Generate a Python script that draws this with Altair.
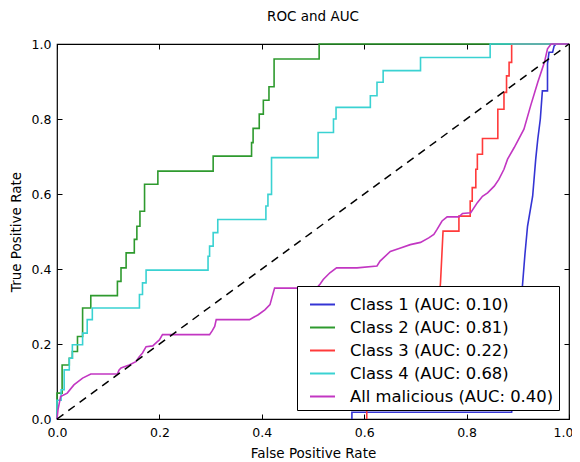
import altair as alt
import pandas as pd

FONT = "DejaVu Sans"

series_names = [
    "Class 1 (AUC: 0.10)",
    "Class 2 (AUC: 0.81)",
    "Class 3 (AUC: 0.22)",
    "Class 4 (AUC: 0.68)",
    "All malicious (AUC: 0.40)",
]
series_colors = ["#3434d4", "#2e9a2e", "#ff3a3a", "#3ad2d2", "#c236c2"]

tick_values = [0.0, 0.2, 0.4, 0.6, 0.8, 1.0]

# Class 1 (blue) - the run along the bottom edge is hidden under the frame
c1_fpr = [0.576, 0.576, 0.888, 0.896, 0.903, 0.909, 0.914, 0.919, 0.929, 0.935,
          0.939, 0.944, 0.948, 0.958, 0.958, 0.961, 0.968, 0.971, 0.975, 1.0]
c1_tpr = [0.0, 0.018, 0.018, 0.15, 0.26, 0.354, 0.44, 0.514, 0.594, 0.693,
          0.746, 0.80, 0.875, 0.875, 0.947, 0.978, 0.978, 0.995, 1.0, 1.0]

# Class 2 (green)
c2_fpr = [0.0, 0.0, 0.010, 0.010, 0.024, 0.024, 0.030, 0.030, 0.040, 0.040, 0.050, 0.050,
          0.066, 0.066, 0.118, 0.118, 0.125, 0.125, 0.135, 0.135, 0.151, 0.151, 0.156, 0.156,
          0.162, 0.162, 0.171, 0.171, 0.197, 0.197, 0.305, 0.305, 0.380, 0.380, 0.383, 0.383,
          0.395, 0.395, 0.403, 0.403, 0.414, 0.414, 0.424, 0.424, 0.512, 0.512, 1.0]
c2_tpr = [0.0, 0.069, 0.069, 0.144, 0.144, 0.162, 0.162, 0.180, 0.180, 0.220, 0.220, 0.296,
          0.296, 0.329, 0.329, 0.367, 0.367, 0.403, 0.403, 0.443, 0.443, 0.479, 0.479, 0.514,
          0.514, 0.554, 0.554, 0.626, 0.626, 0.661, 0.661, 0.701, 0.701, 0.737, 0.737, 0.775,
          0.775, 0.813, 0.813, 0.850, 0.850, 0.886, 0.886, 0.960, 0.960, 1.0, 1.0]

# Class 3 (red) - the run along the bottom edge is hidden under the frame
c3_fpr = [0.605, 0.605, 0.740, 0.745, 0.749, 0.754, 0.785, 0.785, 0.807, 0.807, 0.811,
          0.811, 0.818, 0.818, 0.821, 0.821, 0.831, 0.831, 0.861, 0.861, 0.873, 0.873, 0.878,
          0.878, 0.883, 0.883, 0.888, 0.888, 1.0]
c3_tpr = [0.0, 0.050, 0.050, 0.300, 0.363, 0.501, 0.501, 0.541, 0.541, 0.581, 0.581,
          0.617, 0.617, 0.666, 0.666, 0.706, 0.706, 0.748, 0.748, 0.826, 0.826, 0.871, 0.871,
          0.915, 0.915, 0.951, 0.951, 1.0, 1.0]

# Class 4 (cyan)
c4_fpr = [0.0, 0.0, 0.008, 0.008, 0.014, 0.014, 0.024, 0.024, 0.030, 0.030, 0.050, 0.050,
          0.059, 0.059, 0.069, 0.069, 0.161, 0.161, 0.167, 0.167, 0.174, 0.174, 0.295, 0.295,
          0.298, 0.298, 0.305, 0.305, 0.314, 0.314, 0.408, 0.408, 0.412, 0.412, 0.419, 0.419,
          0.510, 0.510, 0.540, 0.540, 0.545, 0.545, 0.612, 0.612, 0.625, 0.625, 0.637, 0.637,
          0.710, 0.710, 0.846, 0.846, 1.0]
c4_tpr = [0.0, 0.050, 0.050, 0.078, 0.078, 0.131, 0.131, 0.162, 0.162, 0.198, 0.198, 0.229,
          0.229, 0.265, 0.265, 0.296, 0.296, 0.332, 0.332, 0.363, 0.363, 0.397, 0.397, 0.434,
          0.434, 0.461, 0.461, 0.497, 0.497, 0.532, 0.532, 0.568, 0.568, 0.599, 0.599, 0.697,
          0.697, 0.764, 0.764, 0.800, 0.800, 0.831, 0.831, 0.862, 0.862, 0.898, 0.898, 0.929,
          0.929, 0.964, 0.964, 1.0, 1.0]

# All malicious (magenta)
c5_fpr = [0.0, 0.002, 0.007, 0.020, 0.033, 0.050, 0.066, 0.118, 0.121, 0.125, 0.141, 0.154,
          0.160, 0.167, 0.174, 0.187, 0.195, 0.200, 0.206, 0.298, 0.303, 0.308, 0.311, 0.376,
          0.385, 0.393, 0.406, 0.416, 0.420, 0.425, 0.507, 0.514, 0.520, 0.533, 0.546, 0.586,
          0.625, 0.631, 0.651, 0.671, 0.690, 0.710, 0.726, 0.736, 0.742, 0.752, 0.762, 0.785,
          0.792, 0.808, 0.821, 0.831, 0.841, 0.854, 0.863, 0.873, 0.880, 0.893, 0.912, 0.925,
          0.939, 0.952, 0.958, 0.965, 1.0]
c5_tpr = [0.0, 0.025, 0.060, 0.069, 0.091, 0.109, 0.120, 0.120, 0.130, 0.136, 0.144, 0.153,
          0.165, 0.176, 0.193, 0.195, 0.205, 0.211, 0.225, 0.225, 0.235, 0.247, 0.265, 0.265,
          0.272, 0.278, 0.291, 0.305, 0.325, 0.349, 0.349, 0.360, 0.372, 0.390, 0.403, 0.403,
          0.408, 0.421, 0.447, 0.456, 0.465, 0.471, 0.483, 0.492, 0.505, 0.528, 0.539, 0.539,
          0.548, 0.550, 0.577, 0.594, 0.603, 0.621, 0.639, 0.666, 0.693, 0.724, 0.773, 0.835,
          0.898, 0.951, 0.987, 1.0, 1.0]

diag_fpr = [0.0, 1.0]
diag_tpr = [0.0, 1.0]

rows = []
for name, xs, ys in zip(series_names,
                        [c1_fpr, c2_fpr, c3_fpr, c4_fpr, c5_fpr],
                        [c1_tpr, c2_tpr, c3_tpr, c4_tpr, c5_tpr]):
    for i, (a, b) in enumerate(zip(xs, ys)):
        rows.append({"series": name, "fpr": a, "tpr": b, "order": i})
df = pd.DataFrame(rows)
diag_df = pd.DataFrame({"fpr": diag_fpr, "tpr": diag_tpr})

x_scale = alt.Scale(domain=[0, 1], nice=False, zero=False)
y_scale = alt.Scale(domain=[0, 1], nice=False, zero=False)

x_axis = alt.Axis(
    values=tick_values, format=".1f", title="False Positive Rate",
    grid=True, gridDash=[5, 365], gridColor="black", gridOpacity=1, gridWidth=1,
    ticks=False, domain=False, labelFlush=False, labelOverlap=False,
    labelOffset={"condition": {"test": "datum.value >= 1", "value": -6}, "value": 0},
    labelPadding=7, labelFontSize=12.5, labelFont=FONT, labelColor="black",
    titleFontSize=13.5, titleFont=FONT, titleColor="black", titleFontWeight="normal",
    titlePadding=8,
)
y_axis = alt.Axis(
    values=tick_values, format=".1f", title="True Positive Rate",
    grid=True, gridDash=[5, 502], gridColor="black", gridOpacity=1, gridWidth=1,
    ticks=False, domain=False, labelFlush=False, labelOverlap=False,
    labelPadding=6, labelFontSize=12.5, labelFont=FONT, labelColor="black",
    titleFontSize=13.5, titleFont=FONT, titleColor="black", titleFontWeight="normal",
    titlePadding=8,
)

lines = alt.Chart(df).mark_line(strokeWidth=1.6).encode(
    x=alt.X("fpr:Q", scale=x_scale, axis=x_axis),
    y=alt.Y("tpr:Q", scale=y_scale, axis=y_axis),
    color=alt.Color(
        "series:N",
        scale=alt.Scale(domain=series_names, range=series_colors),
        legend=alt.Legend(
            title=None, orient="none", legendX=240, legendY=242,
            symbolType="stroke", symbolSize=625, symbolStrokeWidth=2,
            labelFont=FONT, labelFontSize=16.4, labelColor="black", labelLimit=400,
            labelExpr="datum.label + '\u00a0\u00a0'",
            strokeColor="black", fillColor="white", padding=5,
            rowPadding=1.0, labelOffset=14, symbolOffset=7,
        ),
    ),
    order="order:Q",
)

diag = alt.Chart(diag_df).mark_line(color="black", strokeDash=[8, 6], strokeWidth=1.5).encode(
    x=alt.X("fpr:Q", scale=x_scale),
    y=alt.Y("tpr:Q", scale=y_scale),
)

chart = alt.layer(lines, diag).properties(
    width=512, height=375,
    title=alt.TitleParams("ROC and AUC", font=FONT, fontSize=13.5, fontWeight="normal",
                          color="black", offset=15),
    autosize=alt.AutoSizeParams(type="none"),
    padding={"left": 49, "top": 36, "right": 3, "bottom": 42},
).configure_view(stroke="black", strokeWidth=1.2)

chart.save("out.html", embed_options={"renderer": "svg", "actions": False})
